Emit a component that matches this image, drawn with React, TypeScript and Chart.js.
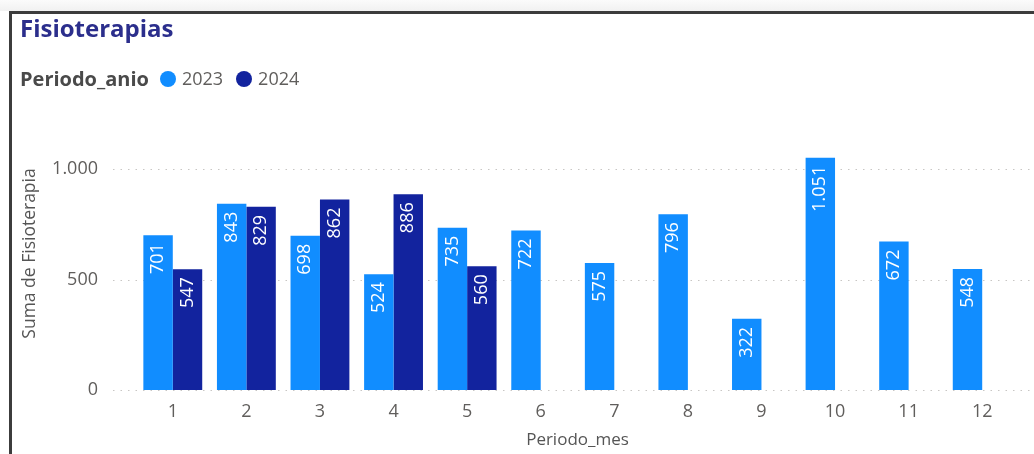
import { useEffect, useRef } from "react";
import { Chart, registerables } from "chart.js";

Chart.register(...registerables);

const months = ["1", "2", "3", "4", "5", "6", "7", "8", "9", "10", "11", "12"];
const values2023 = [701, 843, 698, 524, 735, 722, 575, 796, 322, 1051, 672, 548];
const values2024 = [547, 829, 862, 886, 560, null, null, null, null, null, null, null];
const yTicks = [0, 500, 1000];
const chartTitle = "Fisioterapias";
const legendTitle = "Periodo_anio";
const seriesNames = ["2023", "2024"];
const seriesColors = ["#118DFF", "#12239E"];
const yAxisTitle = "Suma de Fisioterapia";
const xAxisTitle = "Periodo_mes";

const FONT = '"Open Sans", "Noto Sans", sans-serif';

const fmt = (v: number) => String(v).replace(/\B(?=(\d{3})+(?!\d))/g, ".");

const gridPlugin = {
  id: "dotGrid",
  beforeDatasetsDraw(chart: any) {
    const { ctx, chartArea } = chart;
    const y = chart.scales.y;
    ctx.save();
    ctx.strokeStyle = "#c8c6c4";
    ctx.lineWidth = 1;
    ctx.setLineDash([1.5, 6]);
    y.ticks.forEach((t: any) => {
      const py = Math.round(y.getPixelForValue(t.value)) + 0.5;
      ctx.beginPath();
      ctx.moveTo(chartArea.left - 23, py);
      ctx.lineTo(chart.width, py);
      ctx.stroke();
    });
    ctx.restore();
  },
};

const labelPlugin = {
  id: "barLabels",
  afterDatasetsDraw(chart: any) {
    const { ctx } = chart;
    ctx.save();
    ctx.font = `18px ${FONT}`;
    ctx.fillStyle = "#ffffff";
    ctx.textAlign = "right";
    ctx.textBaseline = "middle";
    chart.data.datasets.forEach((ds: any, di: number) => {
      const meta = chart.getDatasetMeta(di);
      meta.data.forEach((bar: any, i: number) => {
        const v = ds.data[i];
        if (v == null) return;
        ctx.save();
        ctx.translate(bar.x, bar.y + 8);
        ctx.rotate(-Math.PI / 2);
        ctx.fillText(fmt(v), 0, 0);
        ctx.restore();
      });
    });
    ctx.restore();
  },
};

const yTitlePlugin = {
  id: "yTitle",
  afterDraw(chart: any) {
    const { ctx, chartArea } = chart;
    ctx.save();
    ctx.translate(chartArea.left - 106, (chartArea.top + chartArea.bottom) / 2 - 15);
    ctx.rotate(-Math.PI / 2);
    ctx.font = `17.5px ${FONT}`;
    ctx.fillStyle = "#555555";
    ctx.textAlign = "center";
    ctx.textBaseline = "middle";
    ctx.fillText(yAxisTitle, 0, 0);
    ctx.restore();
  },
};

export default function App() {
  const ref = useRef<HTMLCanvasElement | null>(null);

  useEffect(() => {
    if (!ref.current) return;
    const chart = new Chart(ref.current, {
      type: "bar",
      data: {
        labels: months,
        datasets: [
          {
            label: seriesNames[0],
            data: values2023,
            backgroundColor: seriesColors[0],
            categoryPercentage: 0.8,
            barPercentage: 1.0,
          },
          {
            label: seriesNames[1],
            data: values2024 as any,
            backgroundColor: seriesColors[1],
            categoryPercentage: 0.8,
            barPercentage: 1.0,
          },
        ],
      },
      options: {
        animation: false,
        responsive: false,
        maintainAspectRatio: false,
        layout: { padding: { left: 18, right: 15, top: 147, bottom: 0 } },
        plugins: {
          legend: { display: false },
          title: { display: false },
          tooltip: { enabled: false },
        },
        scales: {
          x: {
            grid: { display: false, drawTicks: false },
            border: { display: false },
            ticks: { color: "#605E5C", font: { family: FONT, size: 18 }, padding: 11 },
            title: {
              display: true,
              text: xAxisTitle,
              color: "#555555",
              font: { family: FONT, size: 17 },
              padding: { top: 4, bottom: 4 },
            },
            afterFit(scale: any) {
              scale.height = 64;
            },
          },
          y: {
            min: 0,
            max: 1100,
            afterBuildTicks(scale: any) {
              scale.ticks = yTicks.map((v) => ({ value: v }));
            },
            afterFit(scale: any) {
              scale.width = 118;
            },
            border: { display: false },
            grid: { display: false, drawTicks: false },
            ticks: {
              color: "#605E5C",
              font: { family: FONT, size: 18 },
              padding: 38,
              callback: (v: any) => fmt(Number(v)),
            },
          },
        },
      },
      plugins: [gridPlugin, labelPlugin, yTitlePlugin],
    });
    return () => chart.destroy();
  }, []);

  return (
    <div
      style={{
        position: "fixed",
        left: 0,
        top: 0,
        width: 1034,
        height: 454,
        background: "#ffffff",
        overflow: "hidden",
        fontFamily: FONT,
      }}
    >
      <div
        style={{
          position: "absolute",
          left: 0,
          top: 0,
          width: 1034,
          height: 11,
          background: "linear-gradient(#fbfbfb, #f1f1f1)",
        }}
      />
      <div
        style={{
          position: "absolute",
          left: 9,
          top: 11,
          width: 1040,
          height: 460,
          borderTop: "3px solid #3c3c3c",
          borderLeft: "3px solid #3c3c3c",
          boxSizing: "border-box",
        }}
      />
      <canvas
        ref={ref}
        width={1034}
        height={454}
        style={{ position: "absolute", left: 0, top: 0, width: 1034, height: 454, display: "block" }}
      />
      <div
        style={{
          position: "absolute",
          left: 20,
          top: 16,
          fontSize: 24,
          lineHeight: "24px",
          fontWeight: 700,
          color: "#2B2E8C",
          whiteSpace: "nowrap",
        }}
      >
        {chartTitle}
      </div>
      <div
        style={{
          position: "absolute",
          left: 20,
          top: 69,
          height: 19,
          display: "flex",
          alignItems: "center",
          whiteSpace: "nowrap",
          lineHeight: "19px",
        }}
      >
        <span style={{ fontWeight: 700, fontSize: 20, color: "#4a4a4a", marginRight: 11 }}>{legendTitle}</span>
        {seriesNames.map((name, i) => (
          <span key={name} style={{ display: "flex", alignItems: "center", marginRight: 13 }}>
            <span
              style={{
                width: 16,
                height: 16,
                borderRadius: "50%",
                background: seriesColors[i],
                display: "inline-block",
                marginRight: 6,
              }}
            />
            <span style={{ fontSize: 18, color: "#605E5C" }}>{name}</span>
          </span>
        ))}
      </div>
    </div>
  );
}
